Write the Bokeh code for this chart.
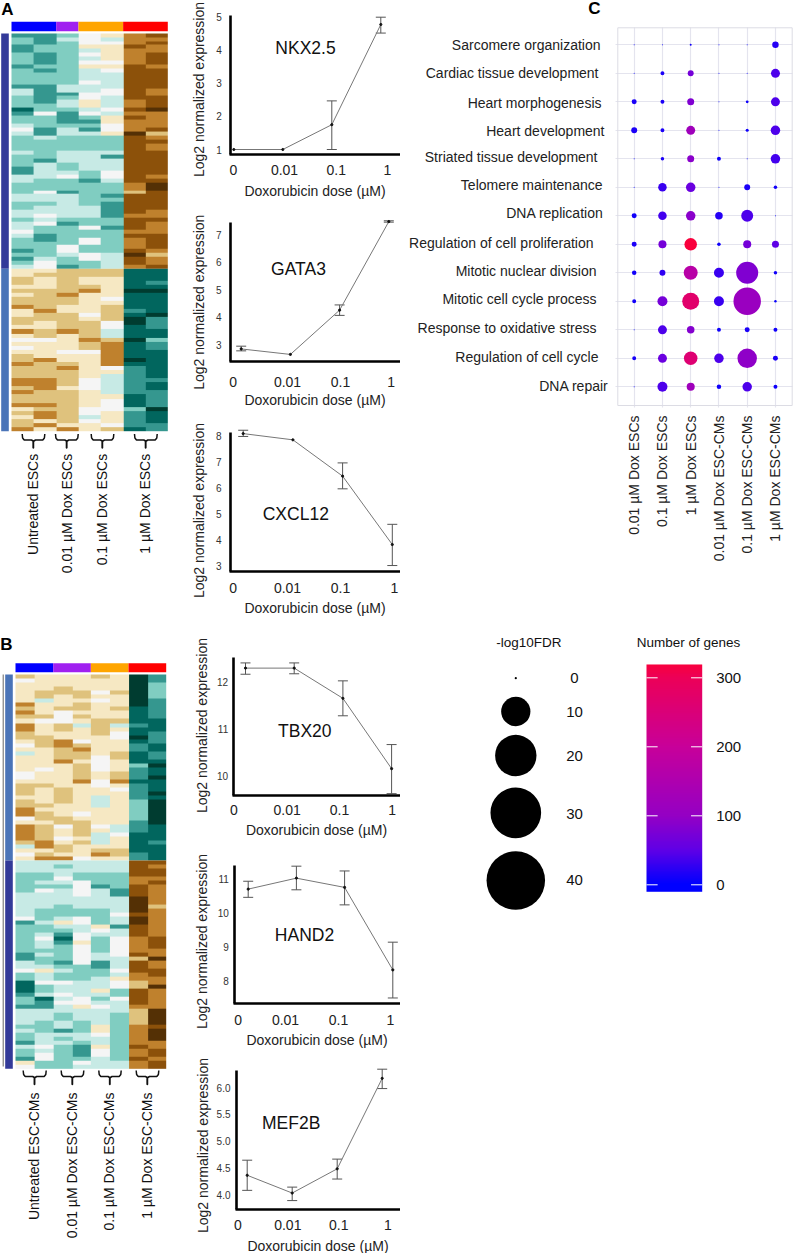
import numpy as np
from math import pi
from bokeh.embed import file_html
from bokeh.resources import INLINE
from bokeh.core.properties import value
from bokeh.layouts import row, column
from bokeh.models import (ColumnDataSource, FixedTicker, Grid, LinearAxis, LinearColorMapper, Range1d, TeeHead, Whisker)
from bokeh.plotting import figure

FONT = "Liberation Sans"

# ---------------- data ----------------
doses = ["0", "0.01", "0.1", "1"]

NKX_mean = [1.0, 1.0, 1.75, 4.78]
NKX_low = [1.0, 1.0, 1.0, 4.52]
NKX_high = [1.0, 1.0, 2.47, 5.0]
GATA_mean = [2.85, 2.65, 4.26, 7.48]
GATA_low = [2.78, 2.65, 4.07, 7.46]
GATA_high = [2.95, 2.65, 4.45, 7.51]
CXCL_mean = [8.1, 7.86, 6.46, 3.82]
CXCL_low = [7.99, 7.86, 5.97, 3.01]
CXCL_high = [8.23, 7.86, 6.97, 4.6]
TBX_mean = [12.29, 12.29, 11.65, 10.16]
TBX_low = [12.16, 12.17, 11.28, 9.63]
TBX_high = [12.40, 12.40, 12.02, 10.67]
HAND_mean = [10.69, 11.01, 10.74, 8.33]
HAND_low = [10.45, 10.67, 10.23, 7.51]
HAND_high = [10.92, 11.36, 11.22, 9.14]
MEF_mean = [4.37, 4.04, 4.49, 6.17]
MEF_low = [4.09, 3.90, 4.30, 5.98]
MEF_high = [4.65, 4.15, 4.67, 6.34]

terms = ["Sarcomere organization", "Cardiac tissue development", "Heart morphogenesis", "Heart development",
         "Striated tissue development", "Telomere maintenance", "DNA replication", "Regulation of cell proliferation",
         "Mitotic nuclear division", "Mitotic cell cycle process", "Response to oxidative stress",
         "Regulation of cell cycle", "DNA repair"]
conditions = ["0.01 µM Dox ESCs", "0.1 µM Dox ESCs", "1 µM Dox ESCs",
              "0.01 µM Dox ESC-CMs", "0.1 µM Dox ESC-CMs", "1 µM Dox ESC-CMs"]
neglog_fdr = [
    [0.05, 0.05, 0.2, 0.05, 0.05, 2.15],
    [0.05, 0.8, 1.8, 0.05, 0.05, 4.1],
    [1.27, 0.8, 2.5, 0.05, 0.4, 4.1],
    [1.8, 0.8, 4.1, 0.05, 0.46, 4.6],
    [0.05, 0.62, 2.5, 0.8, 0.05, 4.6],
    [0.05, 3.7, 4.6, 0.05, 1.8, 0.62],
    [1.27, 3.7, 4.6, 2.9, 7.3, 0.05],
    [1.27, 3.3, 8.0, 0.62, 3.3, 2.5],
    [1.03, 1.8, 10.0, 5.1, 24.7, 0.62],
    [0.8, 5.1, 14.7, 5.1, 38.5, 0.3],
    [0.05, 4.1, 2.9, 0.8, 1.27, 0.8],
    [0.8, 4.1, 9.3, 4.6, 19.4, 1.27],
    [0.05, 5.1, 3.3, 1.03, 4.6, 0.8],
]
gene_counts = [
    [5, 5, 10, 5, 5, 20],
    [5, 15, 70, 5, 5, 40],
    [15, 15, 80, 3, 8, 40],
    [15, 15, 120, 3, 8, 40],
    [5, 15, 90, 10, 5, 35],
    [2, 30, 60, 2, 15, 10],
    [10, 35, 90, 20, 40, 1],
    [15, 70, 320, 8, 70, 50],
    [10, 25, 170, 30, 80, 10],
    [10, 70, 270, 30, 110, 5],
    [1, 40, 85, 8, 15, 10],
    [12, 60, 260, 40, 95, 15],
    [2, 40, 120, 10, 40, 8],
]
fdr_legend = [0, 10, 20, 30, 40]
gene_ticks = [0, 100, 200, 300]

groups_A = ["Untreated ESCs", "0.01 µM Dox ESCs", "0.1 µM Dox ESCs", "1 µM Dox ESCs"]
groups_B = ["Untreated ESC-CMs", "0.01 µM Dox ESC-CMs", "0.1 µM Dox ESC-CMs", "1 µM Dox ESC-CMs"]

heat_A_up = [
    [-3,-3,-2,0,1,3,4],[-2,-3,-1,0,-1,3,3],[-2,-3,-2,0,0,3,4],[-3,-2,-2,1,1,4,3],[-3,-2,-2,-1,1,3,3],
    [-2,-3,-2,0,1,3,4],[-2,-3,-2,-1,1,3,4],[-2,-3,-2,0,0,3,4],[-3,-2,-2,1,1,4,3],[-2,-3,-2,-1,0,4,4],
    [-2,-2,-2,-1,-1,4,4],[-2,-2,-2,-1,-1,4,4],[-2,-2,-2,0,-1,4,4],[-3,-3,-1,-1,-1,4,4],[-1,-3,-1,-1,0,4,3],
    [-1,-3,-3,0,0,4,3],[-2,-3,-2,0,-1,4,4],[-2,-3,-1,1,-1,3,4],[-2,-2,-1,1,-1,3,4],[-4,-2,-2,-1,0,4,5],
    [-3,0,-3,0,-1,3,3],[-2,-2,-3,-2,1,4,3],[-2,-2,-3,-3,1,3,3],[-1,-2,-2,-2,0,3,3],[0,-3,-1,-3,0,3,4],
    [-1,-3,-1,-1,1,5,2],[-2,-1,-2,-2,-2,4,3],[-2,-2,-2,-2,-2,4,4],[-2,-2,-2,-2,-2,4,3],[-2,-2,-2,-2,-2,4,3],
    [-1,-2,-1,-1,-1,4,4],[-2,-2,-1,-1,-3,4,4],[-2,-3,-1,-1,-1,4,4],[-2,-1,-2,-1,-1,4,4],[-3,-1,-2,-1,-1,4,4],
    [-3,-1,-1,-2,0,4,4],[-1,-1,0,-2,0,4,3],[-1,-2,-2,-3,-1,4,4],[-2,-2,-2,-2,-2,3,5],[-2,-2,-2,-2,-2,3,5],
    [-2,0,-3,-2,-2,2,4],[-1,-1,-1,-2,-3,4,4],[-1,-1,-1,-2,-2,4,4],[-2,-2,-1,-2,-3,4,4],[-2,-1,-1,-1,-3,4,4],
    [-1,-1,-1,-1,-3,4,3],[-1,0,-1,-1,-3,3,3],[-2,-1,-2,-2,-2,4,4],[-1,0,-3,-2,-2,4,3],[-1,-2,-2,0,-3,4,3],
    [0,-2,-2,-2,-2,3,3],[-1,-3,-2,-2,-2,4,4],[-2,-3,-2,0,-2,3,4],[-2,-2,-2,0,-2,3,4],[-2,-2,0,-2,-2,3,4],
    [-3,-2,0,-2,-2,4,3],[-2,-2,-1,0,-1,5,2],[-3,-1,-2,0,-1,4,3],[-2,0,-2,-2,-1,4,3],[-1,0,-3,-2,-1,3,4],
]
heat_A_down = [
    [1,1,2,2,2,-4,-4],[1,2,2,2,2,-4,-4],[2,1,2,1,1,-4,-4],[2,1,2,1,1,-4,-3],[1,1,2,2,1,-4,-4],
    [2,2,2,3,1,-5,-5],[1,2,3,1,1,-4,-4],[2,2,2,1,0,-4,-4],[2,2,2,1,1,-4,-4],[3,2,1,1,2,-4,-4],
    [1,3,1,1,2,-3,-4],[1,2,2,0,2,-4,-5],[2,2,2,1,2,-5,-3],[2,1,2,2,0,-5,-3],[1,1,2,2,0,-4,-3],
    [3,2,3,2,-1,-4,-4],[1,2,1,2,-1,-4,-4],[0,0,1,3,2,-5,-2],[1,1,1,2,3,-4,-3],[0,1,1,2,3,-4,-3],
    [1,1,0,0,3,-4,-4],[2,1,1,1,3,-4,-4],[2,3,1,1,3,-5,-4],[3,2,2,1,3,-4,-4],[2,2,3,1,0,-3,-4],
    [2,2,2,1,1,-3,-4],[2,2,2,1,-1,-3,-4],[3,3,2,0,-1,-3,-3],[3,3,2,0,-1,-3,-4],[2,3,1,0,-1,-3,-4],
    [3,2,2,1,-1,-3,-3],[2,2,2,1,1,-4,-3],[2,2,2,1,0,-4,-3],[3,3,2,1,0,-4,-3],[1,2,2,0,0,-2,-5],
    [2,3,2,0,1,-3,-4],[1,3,2,-1,1,-3,-4],[2,1,2,0,1,-3,-4],[2,3,1,1,0,-3,-3],[3,1,3,1,2,-4,-3],
]
heat_B_down = [
    [2,1,1,1,2,1,-5,-3],[0,1,1,1,1,1,-5,-3],[1,1,1,1,1,1,-5,-2],[1,1,2,1,1,1,-5,-2],[1,2,2,2,0,2,-5,-2],
    [1,2,1,2,1,1,-5,-2],[1,-1,1,1,0,1,-5,-3],[3,1,1,2,1,1,-5,-3],[2,1,2,2,1,2,-4,-3],[3,1,0,1,1,1,-4,-3],
    [2,2,0,2,1,1,-4,-3],[1,0,0,1,2,2,-4,-4],[3,1,2,-1,2,-1,-3,-4],[3,1,2,1,2,1,-4,-4],[2,1,1,1,2,0,-4,-3],
    [2,2,1,1,1,0,-5,-3],[1,2,3,0,1,1,-4,-3],[0,2,3,2,1,1,-3,-4],[1,1,2,3,1,1,-3,-4],[-1,1,2,2,1,2,-4,-3],
    [1,1,2,2,0,2,-4,-3],[1,1,3,1,0,1,-4,-4],[1,1,1,2,0,1,-2,-5],[1,0,1,2,0,1,-3,-4],[0,1,1,2,1,2,-3,-4],
    [0,1,1,2,1,2,-3,-5],[1,1,1,3,0,3,-4,-4],[2,2,1,1,0,1,-3,-4],[2,1,2,1,1,0,-3,-4],[2,1,2,1,1,1,-3,-5],
    [1,1,2,1,-1,1,-3,-4],[2,1,2,1,-1,1,-2,-5],[2,2,1,1,-1,1,-2,-5],[3,1,1,1,1,1,-2,-5],[3,2,1,0,1,1,-2,-5],
    [0,2,2,1,1,1,-2,-5],[1,1,2,2,1,1,-3,-5],[3,2,0,2,0,-1,-3,-4],[3,2,1,2,1,-1,-3,-4],[3,2,1,2,-1,0,-4,-4],
    [3,2,0,1,-1,1,-4,-4],[2,3,1,2,-1,1,-4,-3],[-1,3,2,1,1,1,-4,-4],[1,1,2,1,2,2,-4,-4],[0,2,1,1,3,2,-3,-4],
    [1,3,3,0,1,1,-3,-4],
]
heat_B_up = [
    [-1,-1,-1,-1,-1,-1,4,4],[-1,-1,-2,-1,-1,-1,4,3],[-1,-1,-1,-1,-1,-1,4,4],[-2,-2,-1,-2,-2,-2,4,4],
    [-2,-2,0,-2,-2,-2,3,3],[-2,-1,-1,0,-2,-2,3,4],[-2,-2,-2,0,-3,-2,4,3],[-2,0,-1,0,-1,-3,4,3],
    [-1,-1,-1,0,-1,-3,4,3],[-1,-1,-1,-1,-1,-1,5,3],[-1,-1,-1,-1,-1,-1,5,3],[-1,-1,-2,-1,-1,-1,5,2],
    [-1,-2,-2,-2,-2,-1,5,3],[-1,-2,-2,-2,-2,0,4,3],[0,-2,-1,0,-2,-1,5,3],[-3,-1,1,0,-2,-1,5,3],
    [-2,-2,-1,-1,1,-3,4,3],[-2,-2,-2,-1,0,-1,4,3],[-2,-1,-3,0,-1,-1,4,3],[-2,0,-4,0,-2,0,3,4],
    [-2,-1,-3,1,-2,0,3,4],[-2,-1,-2,0,-2,0,3,4],[-2,-2,-2,0,-2,0,3,3],[-3,-1,-2,0,-1,0,4,3],
    [-3,-2,-2,0,-1,-1,2,5],[-1,-2,-3,0,-3,-1,4,3],[-1,-1,-2,-2,-3,-1,4,3],[0,1,-1,-2,-2,0,4,4],
    [-2,-1,-2,-2,-2,-1,3,4],[-2,-1,-2,-2,-1,1,3,3],[-4,0,0,-1,-1,0,2,3],[-4,-2,-1,-1,-1,0,2,5],
    [-4,-2,-1,-1,1,-2,4,3],[-3,-1,0,-1,-1,-2,4,3],[-2,-4,-1,0,-2,0,4,3],[-2,-3,0,0,-1,-1,4,3],
    [-3,-3,-1,1,0,-1,3,3],[-1,-1,-1,-1,-1,-1,2,5],[-1,-1,-2,-1,-1,-2,2,5],[-1,-1,-2,-1,-1,-2,2,5],
    [-1,-2,-1,-2,-1,-2,2,5],[-2,-2,-1,-2,1,-2,3,4],[-1,-2,-3,-2,1,-2,3,5],[-2,-1,-1,-1,0,-2,3,5],
    [-2,-1,-2,-1,-1,-2,3,5],[-3,-1,-1,-2,-1,-2,3,3],[-1,0,-2,-3,1,-2,4,3],[-2,-1,-2,-3,0,-2,3,4],
    [-2,0,-2,-3,0,-2,3,4],[-3,0,-2,-2,-1,-2,4,3],[1,-2,-2,0,-1,-1,3,4],[0,-2,-2,-1,-1,-1,3,4],
]

# ---------------- styles / layout ----------------
BRBG = ["#003c30", "#01665e", "#35978f", "#80cdc1", "#c7eae5", "#f5f5f5",
        "#f6e8c3", "#dfc27d", "#bf812d", "#8c510a", "#543005"]
heat_mapper = LinearColorMapper(palette=BRBG, low=-5.5, high=5.5)

anchors_v = [0, 50, 100, 200, 300, 330]
anchors_c = [(0, 0, 255), (96, 0, 230), (149, 0, 196), (200, 0, 154), (236, 0, 88), (255, 0, 48)]
grid_v = np.linspace(0, 330, 256)
gene_palette = ["#%02x%02x%02x" % tuple(int(round(np.interp(v, anchors_v, [c[i] for c in anchors_c]))) for i in range(3))
                for v in grid_v]
gene_mapper = LinearColorMapper(palette=gene_palette, low=0, high=330)

PAGE_W, PAGE_H = 799, 1253


def blank(w, h, x_range, y_range):
    p = figure(width=w, height=h, x_range=Range1d(*x_range), y_range=Range1d(*y_range),
               x_axis_location=None, y_axis_location=None, toolbar_location=None,
               output_backend="svg", min_border=0, outline_line_color=None, frame_align=False)
    p.grid.visible = False
    return p


def put_text(p, xs, ys, texts, size, align="center", baseline="middle", angle=0.0, style="normal", color="#111111"):
    p.text(x=xs, y=ys, text=texts, angle=angle, text_align=align, text_baseline=baseline,
           text_font=value(FONT), text_font_size=value(size), text_font_style=style, text_color=color)


# ---------------- left column: heat maps ----------------
left = blank(180, PAGE_H, (0, 180), (0, PAGE_H))
Y = lambda py: PAGE_H - py


def heat(matrix, x0, x1, top, bottom):
    arr = np.array(matrix, dtype=float)[::-1]
    left.image(image=[arr], x=x0, y=Y(bottom), dw=x1 - x0, dh=bottom - top, color_mapper=heat_mapper)


def strip(xs, top, bottom, colors):
    left.quad(left=xs[:-1], right=xs[1:], top=[Y(top)] * len(colors), bottom=[Y(bottom)] * len(colors),
              fill_color=colors, line_color=None)


def brace(x1, x2, y0):
    xm = (x1 + x2) / 2
    xs = [x1, x1 + 0.4, x1 + 2, xm - 2, xm - 0.4, xm - 0.4, xm, xm, xm, xm + 0.4, xm + 2, x2 - 2, x2 - 0.4, x2]
    ys = [y0, y0 + 4, y0 + 6, y0 + 6, y0 + 7, y0 + 14, y0 + 14, y0 + 8, y0 + 7, y0 + 7, y0 + 6, y0 + 6, y0 + 4, y0]
    left.line(x=xs, y=[Y(v) for v in ys], line_color="#111111", line_width=1.5)


bar_colors = ["#0000ff", "#a020f0", "#ffa500", "#ff0000"]

# panel A
A_x0, A_x1, A_top, A_mid, A_bot = 11, 167.3, 33, 268.3, 430.7
A_cw = (A_x1 - A_x0) / 7
heat(heat_A_up, A_x0, A_x1, A_top, A_mid)
heat(heat_A_down, A_x0, A_x1, A_mid, A_bot)
strip([A_x0, A_x0 + 2 * A_cw, A_x0 + 3 * A_cw, A_x0 + 5 * A_cw, A_x1], 21.3, 30.7, bar_colors)
left.quad(left=[0.7, 0.7], right=[8.3, 8.3], top=[Y(A_top), Y(A_mid)], bottom=[Y(A_mid), Y(A_bot)],
          fill_color=["#333a99", "#4a74b8"], line_color=None)
for a, b in [(21.7, 44.3), (55, 77.7), (90.7, 113.3), (134, 156.7)]:
    brace(a, b, 433.5)
put_text(left, [32.3, 66, 101.7, 144], [Y(453.3)] * 4, groups_A, "14px", align="right", angle=pi / 2)

# panel B
B_x0, B_x1, B_top, B_mid, B_bot = 15, 165.7, 674, 860, 1068.3
B_cw = (B_x1 - B_x0) / 8
heat(heat_B_down, B_x0, B_x1, B_top, B_mid)
heat(heat_B_up, B_x0, B_x1, B_mid, B_bot)
strip([B_x0, B_x0 + 2 * B_cw, B_x0 + 4 * B_cw, B_x0 + 6 * B_cw, B_x1], 662.7, 671.7, bar_colors)
left.quad(left=[4.7, 4.7], right=[12.3, 12.3], top=[Y(B_top), Y(B_mid)], bottom=[Y(B_mid), Y(B_bot)],
          fill_color=["#4a74b8", "#333a99"], line_color=None)
left.line(x=[2.7, 2.7], y=[Y(674), Y(1066)], line_color="#666666", line_width=1)
for a, b in [(22.7, 45.7), (60.7, 83.3), (98.3, 120.7), (135.7, 158.3)]:
    brace(a, b, 1070)
put_text(left, [33, 71, 108, 146], [Y(1092)] * 4, groups_B, "14px", align="right", angle=pi / 2)

put_text(left, [7, 6], [Y(8.5), Y(643.5)], ["A", "B"], "17px", style="bold", color="#000000")


# ---------------- middle column: dose-response ----------------
def panel(gene, mean, low, high, ticks, box, frame, ref, pts, tick_px, tick_right, gene_xy, ylab_xy, tick_off, lab_off,
          overrides=None):
    box_top, box_bot = box
    f_left, f_top, f_bot = frame
    f_right = 400
    (v1, px1), (v2, px2) = ref
    ppu = (px1 - px2) / (v2 - v1)
    p0, step = pts
    to_x = lambda px: (px - p0) / step
    to_y = lambda py: v1 + (px1 - py) / ppu
    p = blank(220, int(box_bot - box_top), (to_x(180), to_x(400)), (to_y(box_bot), to_y(box_top)))

    tpos = [to_x(v) for v in tick_px]
    xa = LinearAxis(fixed_location=to_y(f_bot), bounds=(to_x(f_left - 1.2), to_x(f_right)),
                    ticker=FixedTicker(ticks=tpos), major_label_overrides=dict(zip(tpos, doses)))
    ya = LinearAxis(fixed_location=to_x(f_left), bounds=(to_y(f_bot), to_y(f_top)), ticker=FixedTicker(ticks=ticks))
    if overrides:
        ya.major_label_overrides = overrides
    for ax in (xa, ya):
        ax.axis_line_color = "#000000"
        ax.axis_line_width = 2.6
        ax.major_tick_line_color = None
        ax.major_tick_in = 0
        ax.major_tick_out = 0
        ax.minor_tick_line_color = None
        ax.major_label_text_font = FONT
    xa.major_label_text_font_size = "14px"
    xa.major_label_text_color = "#222222"
    xa.major_label_standoff = tick_off
    xa.axis_label = "Doxorubicin dose (µM)"
    xa.axis_label_text_font = FONT
    xa.axis_label_text_font_style = "normal"
    xa.axis_label_text_font_size = "14px"
    xa.axis_label_text_color = "#222222"
    xa.axis_label_standoff = lab_off
    ya.major_label_text_font_size = "10px"
    ya.major_label_text_color = "#333333"
    ya.major_label_standoff = int(round(f_left - tick_right))
    p.add_layout(xa, "below")
    p.add_layout(ya, "left")

    idx = [0, 1, 2, 3]
    keep = [i for i in idx if high[i] > low[i]]
    src = ColumnDataSource(dict(x=[idx[i] for i in keep], lo=[low[i] for i in keep], hi=[high[i] for i in keep]))
    head = dict(size=10, line_color="#555555", line_width=1)
    p.add_layout(Whisker(source=src, base="x", upper="hi", lower="lo", dimension="height", line_color="#555555",
                         line_width=1, upper_head=TeeHead(**head), lower_head=TeeHead(**head)))
    p.line(idx, mean, line_color="#777777", line_width=1)
    p.scatter(idx, mean, size=2.2, color="#111111", marker="circle")
    put_text(p, [to_x(gene_xy[0])], [to_y(gene_xy[1])], [gene], "17.5px")
    put_text(p, [to_x(ylab_xy[0])], [to_y(ylab_xy[1])], ["Log2 normalized expression"], "14px", angle=pi / 2,
             color="#222222")
    return p


mids = [
    panel("NKX2.5", NKX_mean, NKX_low, NKX_high, [1, 2, 3, 4, 5], (0, 207), (230.3, 15, 153.7), ((1, 149), (5, 16.7)),
          (233.3, 49), [233, 284, 335.7, 387], 221.7, (305, 47.7), (198, 89), 11, 4),
    panel("GATA3", GATA_mean, GATA_low, GATA_high, [3, 4, 5, 6, 7], (207, 418), (230, 222.3, 361), ((3, 344.3), (7, 234.3)),
          (240.7, 49.2), [232.7, 287, 340, 390.7], 221.3, (298, 268), (198, 301.7), 15, 2),
    panel("CXCL12", CXCL_mean, CXCL_low, CXCL_high, [3, 4, 5, 6, 7, 8], (418, 625), (230, 431.7, 570.7), ((3, 565.3), (8, 435.7)),
          (242.7, 49.7), [232.7, 287, 340, 394], 221.3, (295.3, 513.3), (198, 510), 12, 3),
    panel("TBX20", TBX_mean, TBX_low, TBX_high, [10, 11, 12], (625, 845), (232.7, 656.7, 795), ((10, 775.7), (12, 681.3)),
          (245, 48.7), [233.3, 286.7, 339, 391.7], 227.3, (304.3, 730.7), (201.7, 725), 9, 4),
    panel("HAND2", HAND_mean, HAND_low, HAND_high, [8, 9, 10, 11], (845, 1055), (234.3, 865, 1003.3), ((8, 980.7), (11, 878)),
          (247.7, 48.2), [237.7, 285, 338, 390], 228, (304, 934.3), (201.7, 941), 11, 4),
    panel("MEF2B", MEF_mean, MEF_low, MEF_high, [4, 4.5, 5, 5.5, 6], (1055, 1253), (236, 1070, 1208.7), ((4, 1194.7), (6, 1087)),
          (246.7, 45), [237.3, 287.3, 338.3, 387.3], 229.7, (290.7, 1122.7), (202.7, 1145), 11, 4,
          overrides={4: "4.0", 4.5: "4.5", 5: "5.0", 5.5: "5.5", 6: "6.0"}),
]

# ---------------- right column: dot plot ----------------
c_left, c_right, c_top, c_bot = 617.3, 791.7, 27.3, 405
gx0, gstep = 633.7, 28.25
gy0, ystep = 44.3, 28.5
c_to_x = lambda px: (px - gx0) / gstep
c_to_y = lambda py: (py - gy0) / ystep
dot = blank(399, 620, (c_to_x(400), c_to_x(799)), (c_to_y(620), c_to_y(0)))
ncol = len(conditions)
nrow = len(terms)

dot.add_layout(Grid(dimension=0, ticker=FixedTicker(ticks=list(range(ncol))),
                    cross_bounds=(c_to_y(c_top), c_to_y(c_bot + 2)),
                    grid_line_color="#e4e4ee", grid_line_width=1.2))
dot.add_layout(Grid(dimension=1, ticker=FixedTicker(ticks=list(range(nrow))),
                    cross_bounds=(c_to_x(c_left - 2), c_to_x(c_right)),
                    grid_line_color="#e4e4ee", grid_line_width=1.2))
dot.quad(left=[c_to_x(c_left)], right=[c_to_x(c_right)], top=[c_to_y(c_top)], bottom=[c_to_y(c_bot)],
         fill_color=None, line_color="#dcdce4", line_width=1)
xa = LinearAxis(fixed_location=c_to_y(c_bot), bounds=(c_to_x(c_left), c_to_x(c_right)),
                ticker=FixedTicker(ticks=list(range(ncol))), major_label_overrides=dict(zip(range(ncol), conditions)))
xa.major_label_orientation = pi / 2
xa.major_label_text_font = FONT
xa.major_label_text_font_size = "14px"
xa.major_label_text_color = "#222222"
xa.major_label_standoff = 10
xa.axis_line_color = None
xa.major_tick_line_color = None
xa.major_tick_in = 0
xa.major_tick_out = 0
xa.minor_tick_line_color = None
dot.add_layout(xa, "below")

xs, ys, sizes, cnts = [], [], [], []
for r in range(nrow):
    for c in range(ncol):
        xs.append(c)
        ys.append(r)
        sizes.append(max(4.43 * float(np.sqrt(neglog_fdr[r][c])), 1.0))
        cnts.append(gene_counts[r][c])
dot.scatter(x="x", y="y", size="s", marker="circle", line_color=None,
            fill_color={"field": "n", "transform": gene_mapper},
            source=ColumnDataSource(dict(x=xs, y=ys, s=sizes, n=cnts)))

term_right = [600, 598, 601, 604, 597, 602, 603, 593, 596, 596, 596, 598, 608]
term_dy = [0.5, 0, 1, 0.5, -1.7, -2.3, -3, -1, -1.7, -2, -1.7, -1, -1.3]
put_text(dot, [c_to_x(v) for v in term_right], [i + term_dy[i] / ystep for i in range(nrow)], terms, "14px",
         align="right", color="#222222")
put_text(dot, [c_to_x(594)], [c_to_y(7.5)], ["C"], "17px", style="bold", color="#000000")

# size legend
size_leg = blank(225, PAGE_H - 620, (400, 625), (PAGE_H, 620))
leg_y = [677.7, 711, 755, 812.3, 880]
size_leg.scatter(x=[515.3] * 5, y=leg_y, size=[max(9.25 * float(np.sqrt(v)), 2.2) for v in fdr_legend], marker="circle",
                 color="#000000", line_color=None)
put_text(size_leg, [574] * 5, [677, 711, 755.5, 813, 879], [str(v) for v in fdr_legend], "15px")
put_text(size_leg, [528.3], [642.3], ["-log10FDR"], "13.5px")

# gene-count colour bar: value scale set by the tick spacing of the reference
v_at = lambda py: 300 + (677.3 - py) / 0.69
bx = lambda px: (px - 646) / 55.7
b_low, b_high = -10.1, 319.3
bar = blank(174, PAGE_H - 620, (bx(625), bx(799)), (v_at(1253), v_at(620)))
grad = np.linspace(b_low, b_high, 256).reshape(-1, 1)
bar.image(image=[grad], x=0, y=b_low, dw=1, dh=b_high - b_low, color_mapper=gene_mapper)
bar.segment(x0=[0] * 4, x1=[0.2] * 4, y0=gene_ticks, y1=gene_ticks, line_color="#ffffff", line_width=1)
bar.segment(x0=[0.8] * 4, x1=[1] * 4, y0=gene_ticks, y1=gene_ticks, line_color="#ffffff", line_width=1)
ra = LinearAxis(fixed_location=1, ticker=FixedTicker(ticks=gene_ticks))
ra.axis_line_color = None
ra.major_tick_line_color = None
ra.major_tick_in = 0
ra.major_tick_out = 0
ra.minor_tick_line_color = None
ra.major_label_text_font = FONT
ra.major_label_text_font_size = "15px"
ra.major_label_text_color = "#111111"
ra.major_label_standoff = 14
bar.add_layout(ra, "right")
put_text(bar, [bx(688)], [v_at(642)], ["Number of genes"], "13.5px")

root = row(left, column(*mids, spacing=0), column(dot, row(size_leg, bar, spacing=0), spacing=0), spacing=0)
with open("out.html", "w") as fh:
    fh.write(file_html(root, INLINE))
